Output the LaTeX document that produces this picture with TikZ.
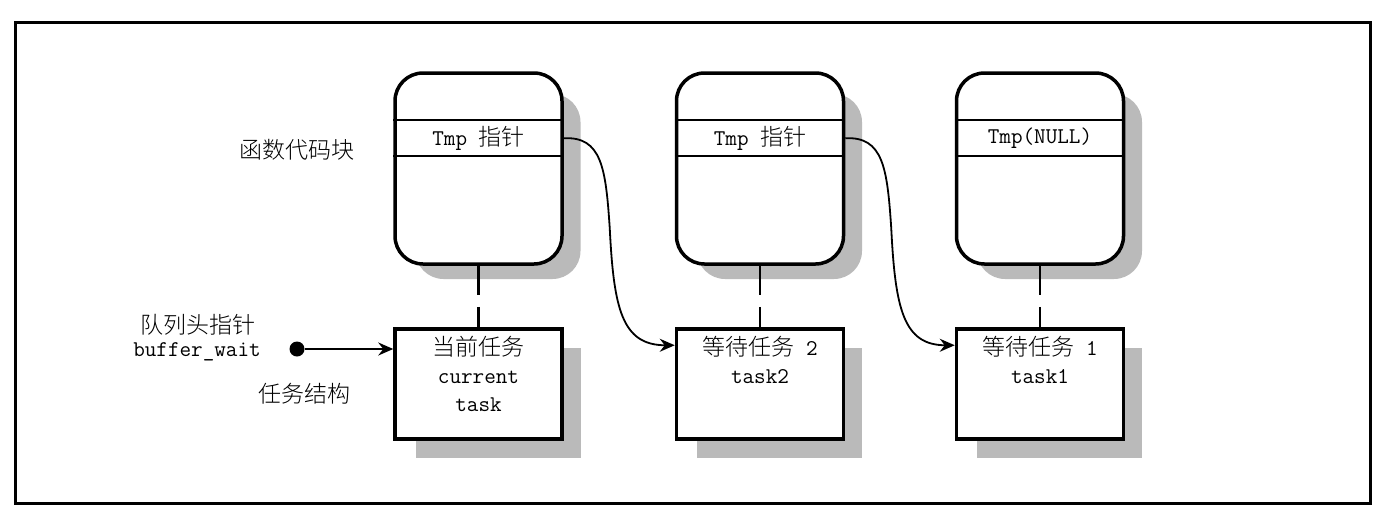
\documentclass[tikz,border=0pt]{standalone}
\usepackage{fontspec}
\IfFontExistsTF{Noto Sans CJK SC Light}
  {\newfontfamily\cjk{Noto Sans CJK SC Light}}
  {\newfontfamily\cjk{Noto Sans CJK SC}}
\usetikzlibrary{arrows.meta,calc}
\newcommand\zh[1]{{\cjk\fontsize{23}{28}\selectfont #1}}
\tikzset{
  fbox/.style={draw,line width=3.5pt,rounded corners=28pt,minimum width=167pt,minimum height=191pt,inner sep=0pt,fill=white},
  tbox/.style={draw,line width=3.5pt,minimum width=167pt,minimum height=110pt,inner sep=0pt,fill=white},
  shade/.style={fill=black!27},
  sep/.style={line width=1.6pt},
  link/.style={line width=1.8pt,-{Stealth[length=15pt,width=13pt,inset=5pt]}},
  dashlink/.style={line width=2.6pt,dash pattern=on 29pt off 12pt on 40pt},
  lbl/.style={inner sep=0pt,font=\ttfamily\fontsize{22.5}{28}\selectfont,align=center},
}
\begin{document}
\begin{tikzpicture}[x=1pt,y=-1pt]
\useasboundingbox (0,0) rectangle (1382,515);
\draw[line width=3pt] (15,22) rectangle (1370,503);
% shadows
\foreach \cx in {478.5,760,1040}{
  \fill[shade,rounded corners=28pt] (\cx-63,94) rectangle (\cx+102,279);
  \fill[shade] (\cx-63,348) rectangle (\cx+102,458);
}
% function blocks
\node[fbox] (f1) at (478.5,168.5) {};
\node[fbox] (f2) at (760,168.5) {};
\node[fbox] (f3) at (1040,168.5) {};
\foreach \f in {f1,f2,f3}{
  \draw[sep] ($(\f.north west)+(0,49)$) -- ($(\f.north east)+(0,49)$);
  \draw[sep] ($(\f.north west)+(0,85)$) -- ($(\f.north east)+(0,85)$);
}
\node[lbl] (p1) at ($(f1.north)+(0,67)$) {Tmp \zh{指针}};
\node[lbl] (p2) at ($(f2.north)+(0,67)$) {Tmp \zh{指针}};
\node[lbl] (p3) at ($(f3.north)+(0,67)$) {Tmp(NULL)};
% task boxes
\node[tbox] (k1) at (478.5,384) {};
\node[tbox] (k2) at (760,384) {};
\node[tbox] (k3) at (1040,384) {};
\node[lbl,anchor=north] (kt1) at ($(k1.north)+(0,9)$) {\zh{当前任务}\\current\\task};
\node[lbl,anchor=north] (kt2) at ($(k2.north)+(0,9)$) {\zh{等待任务} 2\\task2};
\node[lbl,anchor=north] (kt3) at ($(k3.north)+(0,9)$) {\zh{等待任务} 1\\task1};
% dashed links
\draw[dashlink] (f1.south) -- (k1.north);
\draw[dashlink] (f2.south) -- (k2.north);
\draw[dashlink] (f3.south) -- (k3.north);
% labels
\node[lbl] (lf) at (297,150) {\zh{函数代码块}};
\node[lbl] (lq) at (198,325) {\zh{队列头指针}};
\node[lbl] (lb) at (197,352) {buffer\_wait};
\node[lbl] (lt) at (304,394) {\zh{任务结构}};
% head pointer
\node[circle,fill,minimum size=15pt,inner sep=0pt] (dot) at (297,349) {};
\draw[link] (dot) -- (dot -| k1.west);
% curved links
\coordinate (s1) at (p1 -| f1.east);
\coordinate (e1) at ($(k2.north west)+(0,18)$);
\draw[link] (s1) .. controls ($(s1)+(38,-2)$) and ($(s1)+(42,30)$) .. ($(s1)+(46,90)$)
  .. controls ($(s1)+(50,170)$) and ($(s1)+(58,207)$) .. (e1);
\coordinate (s2) at (p2 -| f2.east);
\coordinate (e2) at ($(k3.north west)+(0,18)$);
\draw[link] (s2) .. controls ($(s2)+(38,-2)$) and ($(s2)+(42,30)$) .. ($(s2)+(46,90)$)
  .. controls ($(s2)+(50,170)$) and ($(s2)+(58,207)$) .. (e2);
\end{tikzpicture}
\end{document}
